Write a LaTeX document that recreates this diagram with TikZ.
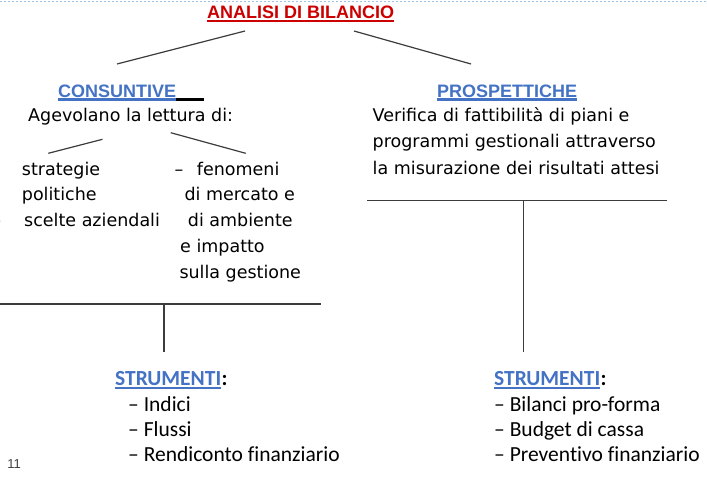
\documentclass[tikz,border=0pt]{standalone}
\usepackage{fontspec}
\setmainfont{DejaVu Sans}
\newfontfamily\headfont{Liberation Sans}
\newfontfamily\toolfont[Ligatures=NoCommon]{Carlito}
\usepackage{tikz}
\usetikzlibrary{positioning,calc}
\definecolor{titlered}{RGB}{204,0,0}
\definecolor{headblue}{RGB}{68,114,196}
\definecolor{linegray}{RGB}{60,60,60}
\definecolor{dotblue}{RGB}{157,195,230}
\newcommand{\bodysize}{\fontsize{17.5}{21}\selectfont}
\newcommand{\toolsize}{\fontsize{21.5}{25}\selectfont}

\begin{document}
\begin{tikzpicture}[x=1pt,y=-1pt,
  txt/.style={anchor=base west,inner sep=0pt,font=\bodysize},
  head/.style={anchor=base west,inner sep=0pt,font=\headfont\bfseries\fontsize{18}{21}\selectfont,text=headblue},
  tool/.style={anchor=base west,inner sep=0pt,font=\toolfont\toolsize},
  link/.style={draw=linegray,line width=1.2pt}]
	\useasboundingbox (0,0) rectangle (707,482);
	\draw[dotblue,line width=1pt,dash pattern=on 2pt off 2pt] (0,1) -- (707,1);
	% titolo e rami
	\node[head,text=titlered] (title) at (207,18.5) {ANALISI DI BILANCIO};
	\draw[titlered,line width=2.5pt] ([yshift=-2.5pt]title.base west) -- ([yshift=-2.5pt]title.base east);
	\node[head] (cons) at (58,97) {CONSUNTIVE};
	\draw[headblue,line width=2.5pt] ([yshift=-2.5pt]cons.base west) -- ([yshift=-2.5pt]cons.base east);
	\draw[black,line width=2.5pt] ([yshift=-2.5pt]cons.base east) -- ++(28,0);
	\node[head] (prosp) at (437,97) {PROSPETTICHE};
	\draw[headblue,line width=2.5pt] ([yshift=-2.5pt]prosp.base west) -- ([yshift=-2.5pt]prosp.base east);
	\coordinate (a1) at (245,31); \coordinate (a2) at (117,64);
	\coordinate (b1) at (354,31); \coordinate (b2) at (471,64);
	\draw[link] (a1) -- (a2);
	\draw[link] (b1) -- (b2);
	% consuntive
	\node[txt] (agev) at (28,121.7) {Agevolano la lettura di:};
	\coordinate (c1) at (102.5,139.3); \coordinate (c2) at (48.3,153.3);
	\coordinate (d1) at (170.7,132.7); \coordinate (d2) at (245.7,153.3);
	\draw[link] (c1) -- (c2);
	\draw[link] (d1) -- (d2);
	\foreach \px/\t [count=\i] in {21.7/strategie, 21.7/politiche, 24/scelte aziendali}
		\node[txt] (strat\i) at (\px,149.2+25.8*\i) {\llap{–\hspace{23pt}}\t};
	\foreach \px/\t [count=\i] in {174.3/–\hspace{13.7pt}fenomeni, 184.3/di mercato e, 187.7/di ambiente, 180/e impatto, 179.3/sulla gestione}
		\node[txt] (feno\i) at (\px,149.2+25.8*\i) {\t};
	\coordinate (l1) at (0,304); \coordinate (l2) at (321,304);
	\coordinate (l3) at (164,304); \coordinate (l4) at (164,352);
	\draw[link] (l1) -- (l2);
	\draw[link] (l3) -- (l4);
	% prospettiche
	\foreach \t [count=\i] in {Verifica di fattibilità di piani e, programmi gestionali attraverso, la misurazione dei risultati attesi}
		\node[txt] (verif\i) at (372.5,95.5+26.2*\i) {\t};
	\coordinate (r1) at (367,200.7); \coordinate (r2) at (667,200.7);
	\coordinate (r3) at (523.7,200.7); \coordinate (r4) at (523.7,352);
	\draw[link] (r1) -- (r2);
	\draw[link] (r3) -- (r4);
	% strumenti
	\foreach \side/\px in {L/115, R/494}{
		\node[tool,font=\toolfont\bfseries\toolsize,text=headblue] (str\side) at (\px,385.7) {STRUMENTI};
		\draw[headblue,line width=1.6pt] ([yshift=-2.5pt]str\side.base west) -- ([yshift=-2.5pt]str\side.base east);
		\node[tool,font=\toolfont\bfseries\toolsize] (col\side) at (str\side.base east) {:};
	}
	\foreach \t [count=\i] in {Indici, Flussi, Rendiconto finanziario}
		\node[tool] (itemL\i) at (128,386.7+25*\i) {– \t};
	\foreach \t [count=\i] in {Bilanci pro-forma, Budget di cassa, Preventivo finanziario}
		\node[tool] (itemR\i) at (494,386.7+25*\i) {– \t};
	\node[font=\headfont\fontsize{13}{15}\selectfont,text=darkgray] (pnum) at (14,464) {11};
\end{tikzpicture}
\end{document}
